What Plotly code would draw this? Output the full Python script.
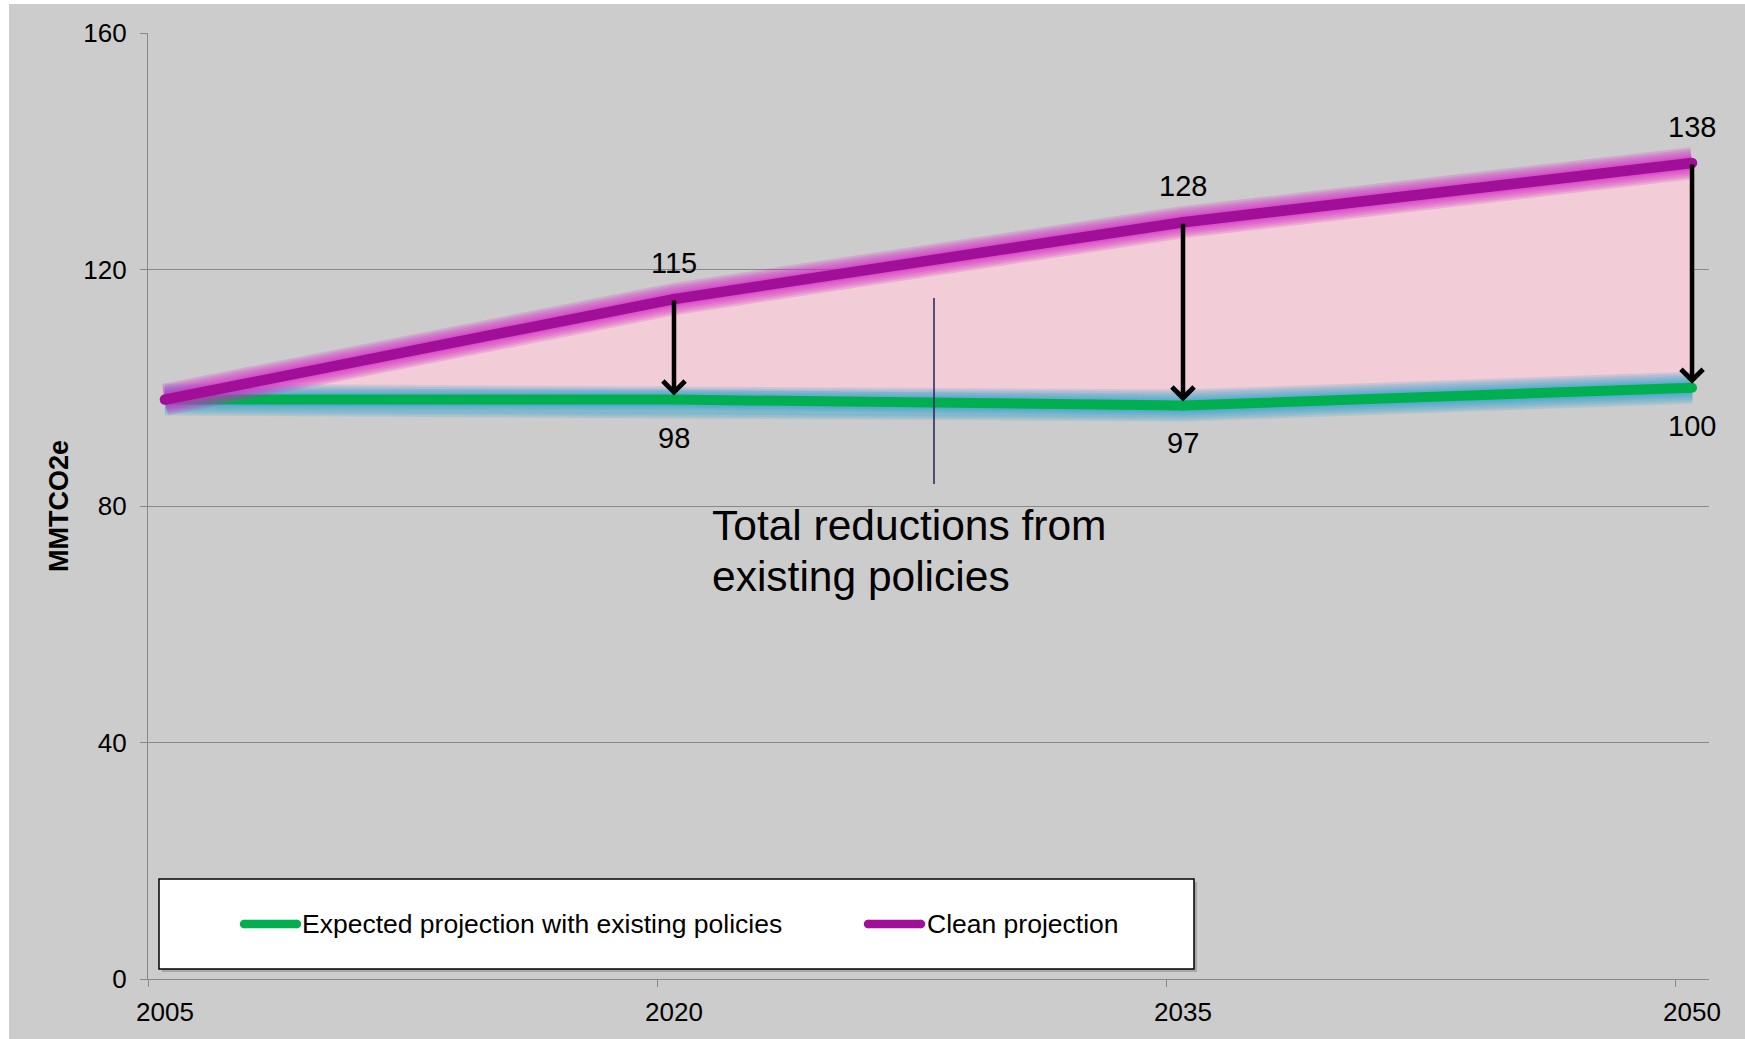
import plotly.graph_objects as go

# ---- data -------------------------------------------------------------
years = [2005, 2020, 2035, 2050]
year_labels = ["2005", "2020", "2035", "2050"]
existing_policies = [98, 98, 97, 100]      # Expected projection with existing policies
clean_projection = [98, 115, 128, 138]     # Clean projection
y_ticks = [0, 40, 80, 120, 160]
y_tick_labels = ["0", "40", "80", "120", "160"]

# ---- page geometry ----------------------------------------------------
W, H = 1745, 1039
M_L, M_R, M_T, M_B = 148, 36, 33, 60
PLOT_W = W - M_L - M_R
PLOT_H = H - M_T - M_B


def px_x(p):
    """Horizontal pixel -> paper coordinate."""
    return (p - M_L) / PLOT_W


def px_y(p):
    """Vertical pixel (from top) -> paper coordinate."""
    return (H - M_B - p) / PLOT_H


FONT = "Liberation Sans, Arial, Helvetica, sans-serif"
BG = "#CCCCCC"
GRID = "#898989"
GREEN = "#00B050"
PURPLE = "#A10E98"
PINK = "#F2CCD6"
NAVY = "#24225E"

fig = go.Figure()

# shaded gap between the two projections
fig.add_trace(go.Scatter(x=years, y=existing_policies, mode="lines",
                         line=dict(width=0, color=GREEN),
                         hoverinfo="skip", showlegend=False))
fig.add_trace(go.Scatter(x=years, y=clean_projection, mode="lines",
                         line=dict(width=0, color=PURPLE),
                         fill="tonexty", fillcolor=PINK,
                         hoverinfo="skip", showlegend=False))


def add_glow(values, rgb, alpha):
    # soft halo built from stacked translucent strokes
    for w in (32, 28, 24, 20, 16, 13):
        fig.add_trace(go.Scatter(x=years, y=values, mode="lines",
                                 line=dict(width=w, color=f"rgba({rgb},{alpha})"),
                                 hoverinfo="skip", showlegend=False))


add_glow(existing_policies, "40,160,205", 0.18)
fig.add_trace(go.Scatter(x=years, y=existing_policies, mode="lines+markers",
                         line=dict(width=10, color=GREEN),
                         marker=dict(size=10, color=GREEN),
                         name="Expected projection with existing policies",
                         showlegend=False))

add_glow(clean_projection, "215,40,200", 0.2)
fig.add_trace(go.Scatter(x=years, y=clean_projection, mode="lines+markers",
                         line=dict(width=10.5, color=PURPLE),
                         marker=dict(size=10.5, color=PURPLE),
                         name="Clean projection", showlegend=False))

annotations = []

# reduction arrows from the clean projection down to the policy projection
for x, top, bottom in zip(years[1:], clean_projection[1:], existing_policies[1:]):
    annotations.append(dict(x=x, y=bottom, ax=x, ay=top,
                            xref="x", yref="y", axref="x", ayref="y",
                            text="", showarrow=True, arrowhead=4,
                            arrowsize=0.95, arrowwidth=4.5, arrowcolor="black",
                            standoff=4))

# value labels
for x, v in zip(years[1:], clean_projection[1:]):
    annotations.append(dict(x=x, y=v, xref="x", yref="y", text=str(v),
                            showarrow=False, yshift=36,
                            font=dict(family=FONT, size=29, color="black")))
for x, v in zip(years[1:], existing_policies[1:]):
    annotations.append(dict(x=x, y=v, xref="x", yref="y", text=str(v),
                            showarrow=False, yshift=-38,
                            font=dict(family=FONT, size=29, color="black")))

# callout text
for line_text, yc in (("Total reductions from", 525), ("existing policies", 576)):
    annotations.append(dict(x=px_x(710), y=px_y(yc), xref="paper", yref="paper",
                            text=line_text, showarrow=False,
                            xanchor="left", yanchor="middle",
                            font=dict(family=FONT, size=42.5, color="black")))

# y-axis title
annotations.append(dict(x=px_x(59), y=px_y(506), xref="paper", yref="paper",
                        text="<b>MMTCO2e</b>", textangle=-90, showarrow=False,
                        xanchor="center", yanchor="middle",
                        font=dict(family=FONT, size=27, color="black")))

# legend text
annotations.append(dict(x=px_x(300), y=px_y(923.5), xref="paper", yref="paper",
                        text="Expected projection with existing policies",
                        showarrow=False, xanchor="left", yanchor="middle",
                        font=dict(family=FONT, size=26.5, color="black")))
annotations.append(dict(x=px_x(924.5), y=px_y(923.5), xref="paper", yref="paper",
                        text="Clean projection",
                        showarrow=False, xanchor="left", yanchor="middle",
                        font=dict(family=FONT, size=26.5, color="black")))

shapes = []

# white frame strips along the left and top edges of the page
shapes.append(dict(type="rect", xref="paper", yref="paper",
                   x0=px_x(-2), x1=px_x(9), y0=px_y(H + 2), y1=px_y(-2),
                   fillcolor="white", line=dict(width=0), layer="below"))
shapes.append(dict(type="rect", xref="paper", yref="paper",
                   x0=px_x(-2), x1=px_x(W + 2), y0=px_y(4), y1=px_y(-2),
                   fillcolor="white", line=dict(width=0), layer="below"))

# thin pointer line for the callout
shapes.append(dict(type="line", xref="paper", yref="paper",
                   x0=px_x(934), x1=px_x(934), y0=px_y(298), y1=px_y(484),
                   line=dict(color=NAVY, width=1.5), layer="above"))

# legend box (shadow + frame)
shapes.append(dict(type="rect", xref="paper", yref="paper",
                   x0=px_x(162), x1=px_x(1197), y0=px_y(972), y1=px_y(882),
                   fillcolor="rgba(0,0,0,0.18)", line=dict(width=0), layer="above"))
shapes.append(dict(type="rect", xref="paper", yref="paper",
                   x0=px_x(159), x1=px_x(1194), y0=px_y(969), y1=px_y(879),
                   fillcolor="white", line=dict(color="black", width=1.5),
                   layer="above"))

# legend swatches with rounded ends
for color, xa, xb in ((GREEN, 244, 297), (PURPLE, 868, 921)):
    shapes.append(dict(type="line", xref="paper", yref="paper",
                       x0=px_x(xa), x1=px_x(xb), y0=px_y(924), y1=px_y(924),
                       line=dict(color=color, width=8.5), layer="above"))
    for cx in (xa, xb):
        shapes.append(dict(type="circle", xref="paper", yref="paper",
                           xsizemode="pixel", ysizemode="pixel",
                           xanchor=px_x(cx), yanchor=px_y(924),
                           x0=-4.25, x1=4.25, y0=-4.25, y1=4.25,
                           fillcolor=color, line=dict(width=0), layer="above"))

fig.update_layout(
    width=W, height=H,
    margin=dict(l=M_L, r=M_R, t=M_T, b=M_B, autoexpand=False),
    paper_bgcolor=BG, plot_bgcolor=BG,
    font=dict(family=FONT, color="black"),
    showlegend=False,
    hovermode=False,
    annotations=annotations,
    shapes=shapes,
    xaxis=dict(
        range=[2004.5, 2050.5],
        tickmode="array", tickvals=years, ticktext=year_labels,
        ticks="", showgrid=False, zeroline=False,
        showline=True, linecolor=GRID, linewidth=1.3,
        ticklabelstandoff=10,
        tickfont=dict(family=FONT, size=26, color="black"),
        minor=dict(tickmode="array", tickvals=[y - 0.5 for y in years],
                   ticks="outside", ticklen=7, tickwidth=1.3,
                   tickcolor=GRID, showgrid=False),
    ),
    yaxis=dict(
        range=[0, 160],
        tickmode="array", tickvals=y_ticks, ticktext=y_tick_labels,
        ticks="outside", ticklen=7, tickwidth=1.3, tickcolor=GRID,
        showgrid=True, gridcolor=GRID, gridwidth=1.3, zeroline=False,
        showline=True, linecolor=GRID, linewidth=1.3,
        ticklabelstandoff=8,
        tickfont=dict(family=FONT, size=26, color="black"),
    ),
)

fig.write_html("out.html")
